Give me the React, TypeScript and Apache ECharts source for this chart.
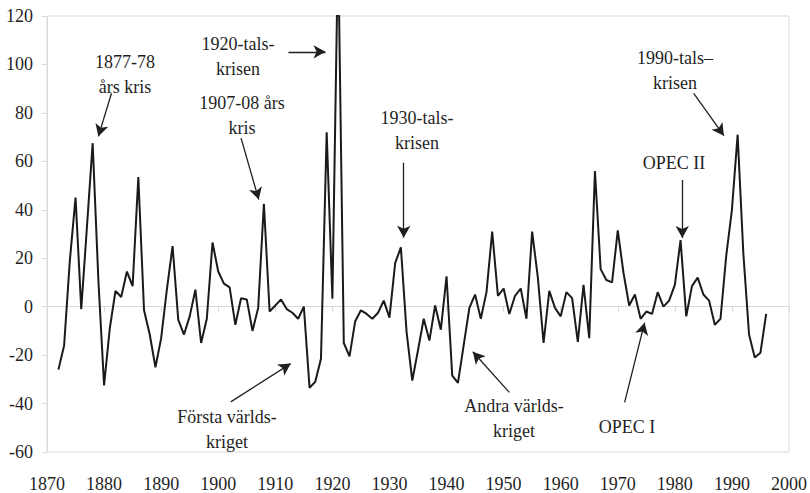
import React, { useEffect, useRef } from "react";
import * as echarts from "echarts";

const START_YEAR = 1872;
const values: number[] = [
  -26, -16, 19, 45, -1, 33, 67.5, 11, -32.5, -9,
  6.5, 4, 14.5, 8.5, 53.5, -1.5, -11.5, -25, -13, 7,
  25, -5.5, -11.5, -4, 7, -15, -5, 26.5, 14.5, 9.5,
  8, -7.5, 3.5, 3, -10, -0.5, 42.5, -2, 0.5, 3,
  -1, -2.5, -5, 0, -33.5, -31, -21.5, 72, 3.3, 150,
  -15, -20.5, -6, -1.5, -3, -5, -2.5, 2.5, -4.5, 18,
  24.5, -10.5, -30.5, -18, -5, -14, 0.5, -9.5, 12.5, -28.5,
  -31.5, -16, -0.5, 5, -5, 6, 31, 4.5, 7.5, -3,
  4.5, 7.5, -5, 31, 12, -15, 6.5, -0.5, -4, 6,
  3.5, -14.5, 9, -13, 56, 15.5, 11, 10, 31.5, 14,
  0.5, 5, -5, -2, -3, 6, 0, 2.5, 9, 27.5,
  -4, 8.5, 12, 5, 2.5, -7.5, -5, 21, 40, 71,
  22, -11.5, -21, -19, -3,
];
const years: number[] = values.map((_, i) => START_YEAR + i);

const X_MIN = 1870;
const X_MAX = 2000;
const Y_MIN = -60;
const Y_MAX = 120;

// Annotation arrows: [fromYear, fromValue, toYear, toValue]
const arrows: [number, number, number, number][] = [
  [1881.3, 88.1, 1879.0, 70.3],
  [1912.3, 105.2, 1918.8, 105.2],
  [1904.0, 69.6, 1907.1, 44.2],
  [1932.5, 59.4, 1932.5, 28.5],
  [1902.2, -39.3, 1912.7, -23.5],
  [1951.0, -35.4, 1944.6, -18.6],
  [1971.2, -39.5, 1974.7, -6.6],
  [1981.3, 52.3, 1981.3, 28.4],
  [1983.3, 88.1, 1988.6, 70.6],
];

const labels: { text: string; x: number; y: number }[] = [
  { text: "1877-78\nårs kris", x: 125, y: 74 },
  { text: "1920-tals-\nkrisen", x: 238, y: 56 },
  { text: "1907-08 års\nkris", x: 242, y: 115 },
  { text: "1930-tals-\nkrisen", x: 417, y: 130 },
  { text: "Första världs-\nkriget", x: 227, y: 429 },
  { text: "Andra världs-\nkriget", x: 514, y: 418 },
  { text: "OPEC I", x: 627, y: 427 },
  { text: "OPEC II", x: 674, y: 163 },
  { text: "1990-tals–\nkrisen", x: 675, y: 70 },
];

const FONT = "'Liberation Serif', 'Times New Roman', 'DejaVu Serif', serif";
const TEXT_COLOR = "#1f1f1f";
const GRAY = "#d9d9d9";

export default function App() {
  const ref = useRef<HTMLDivElement>(null);
  useEffect(() => {
    if (!ref.current) return;
    const chart = echarts.init(ref.current, undefined, { renderer: "svg" });
    const option: any = {
      animation: false,
      backgroundColor: "#ffffff",
      textStyle: { fontFamily: FONT },
      grid: {
        left: 47,
        right: 17,
        top: 16,
        bottom: 40,
        show: true,
        borderColor: GRAY,
        borderWidth: 1,
      },
      xAxis: [
        {
          type: "value",
          min: X_MIN,
          max: X_MAX,
          interval: 10,
          position: "bottom",
          axisLine: { show: false, onZero: false },
          axisTick: { show: false },
          splitLine: { show: false },
          axisLabel: {
            margin: 23,
            color: TEXT_COLOR,
            fontFamily: FONT,
            fontSize: 18,
            formatter: (v: number) => String(v),
          },
        },
        {
          type: "value",
          min: X_MIN,
          max: X_MAX,
          interval: 10,
          position: "top",
          axisLine: { show: true, onZero: true, lineStyle: { color: GRAY, width: 1 } },
          axisTick: { show: true, inside: true, length: 5, lineStyle: { color: GRAY } },
          axisLabel: { show: false },
          splitLine: { show: false },
        },
      ],
      yAxis: {
        type: "value",
        min: Y_MIN,
        max: Y_MAX,
        interval: 20,
        axisLine: { show: true, lineStyle: { color: GRAY, width: 1 } },
        axisTick: { show: true, length: 5, lineStyle: { color: GRAY } },
        splitLine: { show: false },
        axisLabel: {
          margin: 14,
          color: TEXT_COLOR,
          fontFamily: FONT,
          fontSize: 18,
        },
      },
      series: [
        {
          type: "line",
          xAxisIndex: 0,
          data: years.map((y, i) => [y, values[i]]),
          showSymbol: false,
          symbol: "none",
          clip: true,
          lineStyle: { color: "#1a1a1a", width: 2 },
          z: 3,
          markLine: {
            silent: true,
            symbol: ["none", "arrow"],
            symbolSize: [10, 12],
            label: { show: false },
            lineStyle: { color: TEXT_COLOR, width: 1.3, type: "solid" },
            data: arrows.map((a) => [
              { coord: [a[0], a[1]] },
              { coord: [a[2], a[3]] },
            ]),
          },
        },
      ],
      graphic: [
        ...labels.map((l) => ({
          type: "text",
          x: l.x,
          y: l.y,
          z: 10,
          style: {
            text: l.text,
            x: 0,
            y: 0,
            align: "center",
            verticalAlign: "middle",
            fontFamily: FONT,
            fontSize: 18,
            lineHeight: 25,
            fill: TEXT_COLOR,
          },
        })),
        {
          type: "rect",
          z: 11,
          shape: { x: 205, y: 76, width: 68, height: 7 },
          style: { fill: "#ffffff" },
        },
      ],
    };
    chart.setOption(option);
    return () => chart.dispose();
  }, []);
  return (
    <div
      ref={ref}
      style={{ position: "fixed", left: 0, top: 0, width: 810, height: 493 }}
    />
  );
}
